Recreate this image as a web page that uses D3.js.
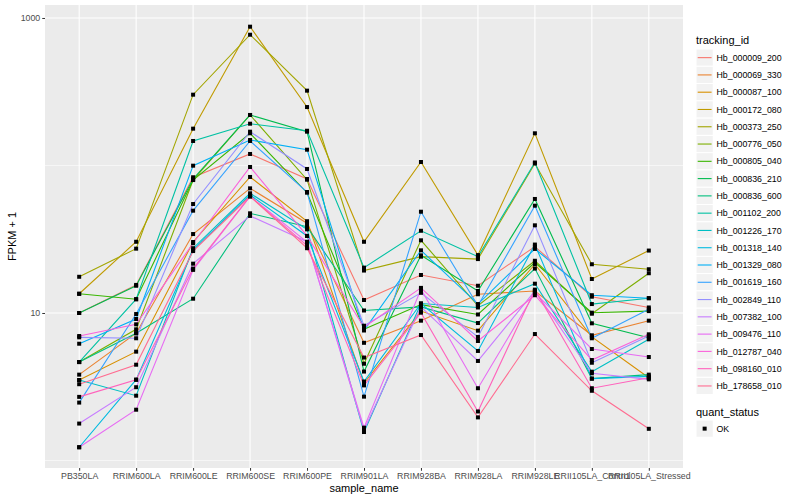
<!DOCTYPE html>
<html><head><meta charset="utf-8">
<script src="https://cdn.jsdelivr.net/npm/d3@7"></script>
<style>body{margin:0;background:#fff;} text{font-family:"Liberation Sans",Arial,Helvetica,sans-serif;}</style>
</head><body>
<svg id="chart" width="800" height="500"></svg>
<script>
const sampleNames = ["PB350LA","RRIM600LA","RRIM600LE","RRIM600SE","RRIM600PE","RRIM901LA","RRIM928BA","RRIM928LA","RRIM928LE","RRII105LA_Control","RRII105LA_Stressed"];
const trackingIds = ["Hb_000009_200","Hb_000069_330","Hb_000087_100","Hb_000172_080","Hb_000373_250","Hb_000776_050","Hb_000805_040","Hb_000836_210","Hb_000836_600","Hb_001102_200","Hb_001226_170","Hb_001318_140","Hb_001329_080","Hb_001619_160","Hb_002849_110","Hb_007382_100","Hb_009476_110","Hb_012787_040","Hb_098160_010","Hb_178658_010"];
const hueColors = ["#F8766D","#EA8331","#D89000","#C09B00","#A3A500","#7CAE00","#39B600","#00BB4E","#00BF7D","#00C1A3","#00BFC4","#00BAE0","#00B0F6","#35A2FF","#9590FF","#C77CFF","#E76BF3","#FA62DB","#FF62BC","#FF6C91"];
// FPKM + 1, one array per tracking_id, in sampleNames order
const hb000009_200 = [10.0,15.5,83.2,119.7,81.0,12.25,18.1,15.3,28.2,12.9,10.9];
const hb000069_330 = [3.82,7.29,34.3,70.0,40.6,6.28,8.87,13.4,14.1,7.06,8.87];
const hb000087_100 = [3.51,5.47,30.3,83.6,41.9,3.34,10.3,7.59,21.4,6.88,3.64];
const hb000172_080 = [13.5,30.4,177.7,873,249,30.4,105.6,24.7,165.3,17.0,26.5];
const hb000373_250 = [17.6,27.3,302,770,321.6,19.4,24.1,23.2,103.2,21.4,19.8];
const hb000776_050 = [4.65,7.75,79.7,220,80.1,4.53,31.1,11.2,22.6,9.89,18.6];
const hb000805_040 = [13.5,12.4,79.7,165.3,65.4,7.77,11.4,9.77,22.0,10.05,10.3];
const hb000836_210 = [10.0,15.3,81.0,220,169.5,4.01,24.6,14.1,59.3,8.51,6.80];
const hb000836_600 = [4.65,7.29,12.5,47.4,38.5,10.4,11.0,8.55,20.0,3.59,3.82];
const hb001102_200 = [4.65,12.4,146.6,192,172,20.3,36.1,24.1,104.8,11.5,12.6];
const hb001226_170 = [3.51,2.75,27.5,64.8,36.9,1.56,11.6,10.9,15.8,4.0,6.63];
const hb001318_140 = [1.23,3.53,26.7,63.1,33.3,3.43,11.6,5.53,29.1,3.59,3.72];
const hb001329_080 = [6.19,9.11,99.7,148.9,128,7.61,26.6,11.5,27.2,13.2,12.6];
const hb001619_160 = [2.47,9.84,49.4,146.6,66.1,2.71,48.6,11.2,53.4,6.74,10.6];
const hb002849_110 = [6.84,6.74,54.8,169.5,94.7,8.20,13.7,6.88,39.3,4.60,6.98];
const hb007382_100 = [1.78,3.14,21.6,45.5,30.4,1.61,11.0,4.73,14.1,3.90,3.55];
const hb009476_110 = [1.23,2.21,19.6,61.8,30.3,1.67,14.5,3.09,13.7,5.70,5.03];
const hb012787_040 = [6.98,8.38,29.7,97.7,33.3,8.00,14.8,6.46,13.2,4.80,7.17];
const hb098160_010 = [2.70,3.53,20.0,61.8,28.6,3.23,10.05,2.15,14.4,3.09,3.64];
const hb178658_010 = [3.29,4.46,26.3,61.8,27.5,4.99,7.09,1.96,7.20,2.97,1.64];
const seriesValues = [hb000009_200,hb000069_330,hb000087_100,hb000172_080,hb000373_250,hb000776_050,hb000805_040,hb000836_210,hb000836_600,hb001102_200,hb001226_170,hb001318_140,hb001329_080,hb001619_160,hb002849_110,hb007382_100,hb009476_110,hb012787_040,hb098160_010,hb178658_010];
const yMajorTicks = [10, 1000];
const yMinorTicks = [1, 100];
const quantStatus = ["OK"];

const svg = d3.select("#chart");
const P = {l:45, r:683, t:5, b:468};
const x = d3.scalePoint().domain(sampleNames).range([P.l, P.r]).padding(0.6);
const y = d3.scaleLog().domain([Math.pow(10,-0.0508), Math.pow(10,3.088)]).range([P.b, P.t]);

svg.append("rect").attr("x",P.l).attr("y",P.t).attr("width",P.r-P.l).attr("height",P.b-P.t).attr("fill","#EBEBEB");
const grid = svg.append("g");
yMinorTicks.forEach(v=>grid.append("line").attr("x1",P.l).attr("x2",P.r).attr("y1",y(v)).attr("y2",y(v)).attr("stroke","#fff").attr("stroke-width",0.55));
yMajorTicks.forEach(v=>grid.append("line").attr("x1",P.l).attr("x2",P.r).attr("y1",y(v)).attr("y2",y(v)).attr("stroke","#fff").attr("stroke-width",1.1));
sampleNames.forEach(s=>grid.append("line").attr("x1",x(s)).attr("x2",x(s)).attr("y1",P.t).attr("y2",P.b).attr("stroke","#fff").attr("stroke-width",1.1));

const line = d3.line().x((d,i)=>x(sampleNames[i])).y(d=>y(d));
const gl = svg.append("g");
seriesValues.forEach((vals,k)=>{
  gl.append("path").attr("d",line(vals)).attr("fill","none").attr("stroke",hueColors[k]).attr("stroke-width",1.1);
});
const gp = svg.append("g");
seriesValues.forEach(vals=>{
  vals.forEach((v,i)=>{
    gp.append("rect").attr("x",x(sampleNames[i])-2).attr("y",y(v)-2).attr("width",4).attr("height",4).attr("fill","#000");
  });
});

// axes
const yAxis = d3.axisLeft(y).tickValues(yMajorTicks).tickFormat(d3.format("d")).tickSize(2.75).tickPadding(2);
const ga = svg.append("g").attr("transform",`translate(${P.l},0)`).call(yAxis);
ga.select(".domain").remove();
ga.selectAll("line").attr("stroke","#333");
ga.selectAll("text").attr("fill","#4D4D4D").style("font-size","8.8px").style("font-family","Liberation Sans, Arial, sans-serif");
const xAxis = d3.axisBottom(x).tickSize(2.75).tickPadding(2);
const gx = svg.append("g").attr("transform",`translate(0,${P.b})`).call(xAxis);
gx.select(".domain").remove();
gx.selectAll("line").attr("stroke","#333");
gx.selectAll("text").attr("fill","#4D4D4D").style("font-size","8.8px").style("font-family","Liberation Sans, Arial, sans-serif");

svg.append("text").attr("x",(P.l+P.r)/2).attr("y",492).attr("text-anchor","middle").style("font-size","11px").text("sample_name");
svg.append("text").attr("transform",`translate(16,${(P.t+P.b)/2}) rotate(-90)`).attr("text-anchor","middle").style("font-size","11px").text("FPKM + 1");

// legend
const lg = svg.append("g");
lg.append("text").attr("x",696).attr("y",44).style("font-size","11px").text("tracking_id");
const keyH = 17.28, key0 = 49;
trackingIds.forEach((id,k)=>{
  const ty = key0 + k*keyH;
  lg.append("rect").attr("x",696).attr("y",ty).attr("width",keyH).attr("height",keyH).attr("fill","#F2F2F2").attr("stroke","#fff").attr("stroke-width",1);
  lg.append("line").attr("x1",697.7).attr("x2",696+keyH-1.7).attr("y1",ty+keyH/2).attr("y2",ty+keyH/2).attr("stroke",hueColors[k]).attr("stroke-width",1.1);
  lg.append("text").attr("x",716.5).attr("y",ty+keyH/2+3.1).style("font-size","8.8px").text(id);
});
lg.append("text").attr("x",696).attr("y",416).style("font-size","11px").text("quant_status");
quantStatus.forEach((q,k)=>{
  const ty = 420 + k*keyH;
  lg.append("rect").attr("x",696).attr("y",ty).attr("width",keyH).attr("height",keyH).attr("fill","#F2F2F2").attr("stroke","#fff");
  lg.append("rect").attr("x",696+keyH/2-2).attr("y",ty+keyH/2-2).attr("width",4).attr("height",4).attr("fill","#000");
  lg.append("text").attr("x",716.5).attr("y",ty+keyH/2+3.1).style("font-size","8.8px").text(q);
});
</script>
</body></html>
